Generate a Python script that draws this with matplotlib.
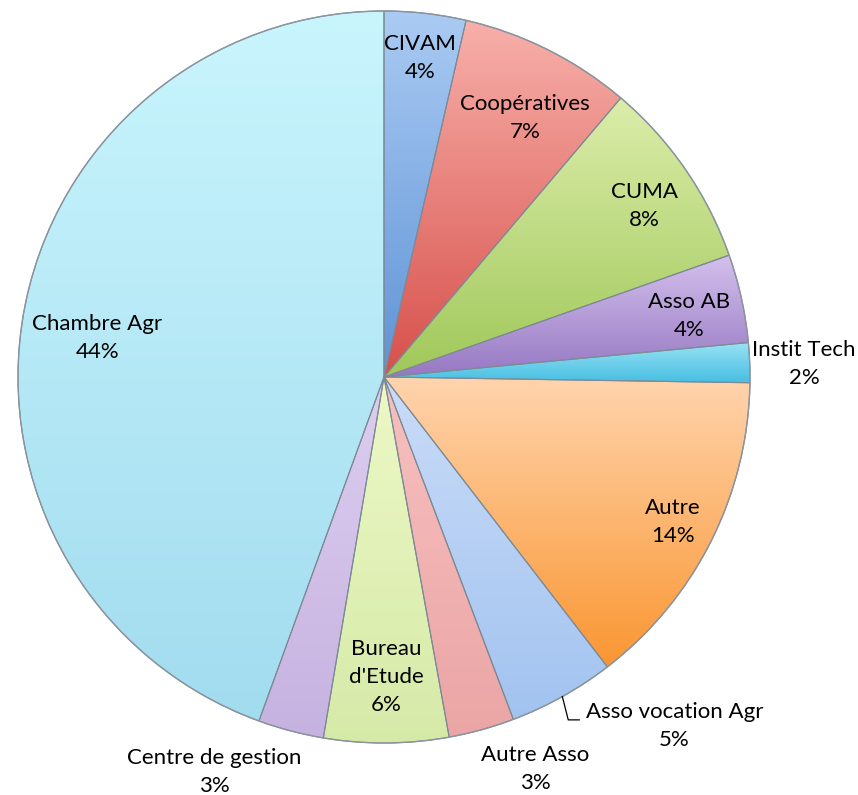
import numpy as np
import matplotlib
matplotlib.use("Agg")
import matplotlib.pyplot as plt
from matplotlib.colors import LinearSegmentedColormap

# =====================================================================
# DATA (clockwise from 12 o'clock)
# =====================================================================

categories = ["CIVAM", "Coopératives", "CUMA", "Asso AB", "Instit Tech", "Autre",
              "Asso vocation Agr", "Autre Asso", "Bureau\nd'Etude",
              "Centre de gestion", "Chambre Agr"]
shares = [3.6, 7.6, 8.4, 3.9, 1.75, 14.3, 4.7, 2.9, 5.5, 2.9, 44.45]
pct_labels = ["4%", "7%", "8%", "4%", "2%", "14%", "5%", "3%", "6%", "3%", "44%"]

# gradient colours per wedge: (top, bottom)
grad_colors = [
    ("#aacbf3", "#5f93d6"),
    ("#f8b0aa", "#d7504b"),
    ("#dcedaa", "#a0c85a"),
    ("#d4c0ec", "#9678c3"),
    ("#9ae2f5", "#46bee1"),
    ("#ffd4ae", "#fa9632"),
    ("#cadcf8", "#a2c3f0"),
    ("#f8c0c0", "#eba5a5"),
    ("#edf8c6", "#d6eaa8"),
    ("#ddcef0", "#c6b2e0"),
    ("#c9f5fd", "#a2dcef"),
]

# label placement: radius factor and angle shift (deg, clockwise)
label_r = [0.877, 0.806, 0.85, 0.85, 1.148, 0.883, 1.24, 1.148, 0.82, 1.175, 0.79]
label_da = [0, 1.9, 1.3, 1.2, 0.5, 0, -10.6, -5.6, 0, 8.5, -2.3]

W, H = 858, 795
CX, CY, R = 384, H - 377, 366

plt.rcParams["font.family"] = ["Lato", "DejaVu Sans"]

fig = plt.figure(figsize=(W / 100, H / 100), dpi=100)
ax = fig.add_axes([0, 0, 1, 1])

wedges, _ = ax.pie(shares, startangle=90, counterclock=False, center=(CX, CY),
                   radius=R, wedgeprops=dict(edgecolor="#7d8a96", linewidth=0.8))

grad = np.linspace(0, 1, 256).reshape(-1, 1)
for w, (c_top, c_bot) in zip(wedges, grad_colors):
    ext = w.get_path().get_extents()
    cmap = LinearSegmentedColormap.from_list("g", [c_top, c_bot])
    im = ax.imshow(grad, cmap=cmap, extent=[ext.x0, ext.x1, ext.y0, ext.y1],
                   origin="upper", aspect="auto", zorder=1, interpolation="bilinear")
    im.set_clip_path(w)
    w.set_facecolor("none")
    w.set_zorder(2)

# outer rim
rim = plt.Circle((CX, CY), R, fill=False, edgecolor="#8c959e", linewidth=1.0, zorder=3)
ax.add_patch(rim)

for i, w in enumerate(wedges):
    mid = 0.5 * (w.theta1 + w.theta2) - label_da[i]
    t = np.deg2rad(mid)
    x = CX + label_r[i] * R * np.cos(t)
    y = CY + label_r[i] * R * np.sin(t)
    ax.text(x, y, categories[i] + "\n" + pct_labels[i], ha="center", va="center",
            fontsize=16, linespacing=1.5, color="black", zorder=5)
    if categories[i] == "Asso vocation Agr":
        # leader line from the wedge rim to the label
        tm = np.deg2rad(0.5 * (w.theta1 + w.theta2))
        sx, sy = CX + R * np.cos(tm), CY + R * np.sin(tm)
        ax.plot([sx, x - 106, x - 95], [sy, y + 6, y + 6], color="black",
                linewidth=0.9, zorder=5)

ax.set_xlim(0, W)
ax.set_ylim(0, H)
ax.set_aspect("equal")
ax.axis("off")

fig.savefig("out.png", dpi=100, facecolor="white")
